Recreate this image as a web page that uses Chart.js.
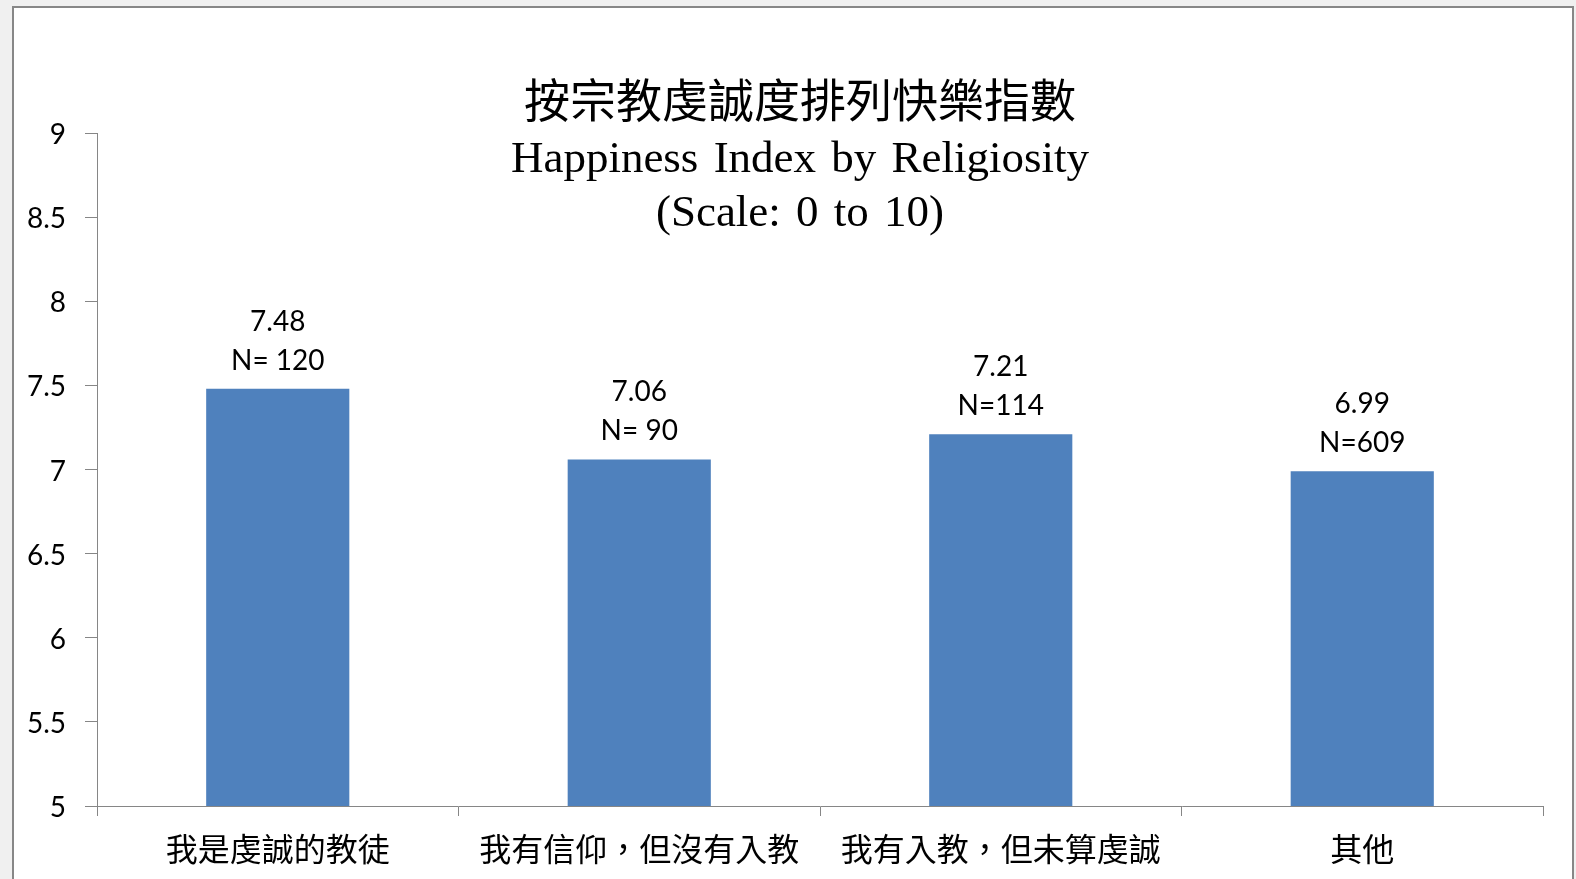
<!DOCTYPE html>
<html>
<head>
<meta charset="utf-8">
<script src="https://cdn.jsdelivr.net/npm/chart.js@4.4.1/dist/chart.umd.min.js"></script>
<style>
  html, body { margin: 0; padding: 0; background: #f0f0f0; overflow: hidden; }
  #marco {
    position: absolute; left: 12px; top: 6px;
    width: 1558px; height: 900px;
    border: 2px solid #878787; background: #fff;
  }
  canvas { display: block; }
</style>
</head>
<body>
<div id="marco"><canvas id="grafico" width="1558" height="871"></canvas></div>
<script>
// datos
const categorias = ["我是虔誠的教徒", "我有信仰，但沒有入教", "我有入教，但未算虔誠", "其他"];
const indiceFelicidad = [7.48, 7.06, 7.21, 6.99];
const muestras = ["N= 120", "N= 90", "N=114", "N=609"];
const ejeMin = 5, ejeMax = 9, ejePaso = 0.5;
const titulo = ["按宗教虔誠度排列快樂指數", "Happiness Index by Religiosity", "(Scale: 0 to 10)"];

const gris = "#868686";
const azul = "#4f81bd";

// titulo dibujado a mano porque se superpone al area del grafico
const pluginTitulo = {
  id: "titulo",
  afterDraw(chart) {
    const ctx = chart.ctx;
    const cx = chart.width / 2 + 7;
    ctx.save();
    ctx.fillStyle = "#000";
    ctx.textAlign = "center";
    ctx.textBaseline = "middle";
    ctx.font = '46px "Noto Sans CJK TC"';
    ctx.fillText(titulo[0], cx, 92);
    ctx.font = '45px "Liberation Serif"';
    if ("wordSpacing" in ctx) ctx.wordSpacing = "4px";
    ctx.fillText(titulo[1], cx, 152);
    ctx.fillText(titulo[2], cx, 206);
    ctx.restore();
  }
};

// etiquetas de valor + N encima de cada barra
const pluginEtiquetas = {
  id: "etiquetas",
  afterDatasetsDraw(chart) {
    const ctx = chart.ctx;
    const meta = chart.getDatasetMeta(0);
    ctx.save();
    ctx.fillStyle = "#000";
    ctx.textAlign = "center";
    ctx.textBaseline = "middle";
    ctx.font = '28px Lato';
    meta.data.forEach((barra, i) => {
      ctx.fillText(indiceFelicidad[i].toFixed(2), barra.x, barra.y - 67);
      ctx.fillText(muestras[i], barra.x, barra.y - 28);
    });
    ctx.restore();
  }
};

new Chart(document.getElementById("grafico"), {
  type: "bar",
  data: {
    labels: categorias,
    datasets: [{
      data: indiceFelicidad,
      backgroundColor: azul,
      borderWidth: 0,
      barPercentage: 0.396,
      categoryPercentage: 1
    }]
  },
  options: {
    responsive: false,
    animation: false,
    layout: { padding: { top: 125, right: 29, left: 0, bottom: 0 } },
    plugins: {
      legend: { display: false },
      title: { display: false },
      tooltip: { enabled: false }
    },
    scales: {
      x: {
        afterFit(s) { s.height = 73; },
        border: { display: true, color: gris, width: 1 },
        grid: { display: true, drawOnChartArea: false, drawTicks: true, tickLength: 10, color: gris },
        ticks: {
          color: "#000",
          padding: 14,
          font: { family: '"Noto Sans CJK TC"', size: 32 },
          maxRotation: 0
        }
      },
      y: {
        min: ejeMin,
        max: ejeMax,
        afterFit(s) { s.width = 83; },
        border: { display: true, color: gris, width: 1 },
        grid: { display: true, drawOnChartArea: false, drawTicks: true, tickLength: 12, color: gris },
        ticks: {
          stepSize: ejePaso,
          color: "#000",
          padding: 19,
          labelOffset: 2,
          font: { family: "Lato", size: 28 },
          callback: (v) => `${v}`
        }
      }
    }
  },
  plugins: [pluginTitulo, pluginEtiquetas]
});
</script>
</body>
</html>
